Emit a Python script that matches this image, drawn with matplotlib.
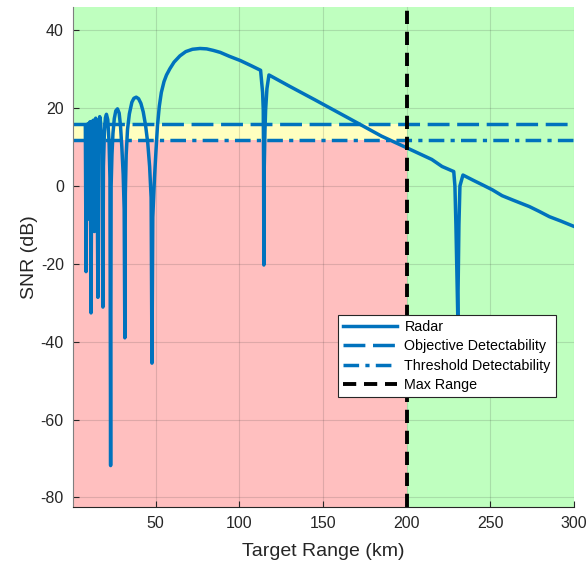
# SNR vs target range with detectability regions

import matplotlib.pyplot as plt
import numpy as np

plt.rcParams['font.family'] = ['Liberation Sans', 'DejaVu Sans']
plt.rcParams['axes.unicode_minus'] = False

# radar SNR curve
range_km = [8.0, 8.43, 8.9, 9.4, 9.6, 9.9, 10.4, 10.9, 11.4, 11.9, 12.5, 12.9, 13.4,
            13.6, 13.9, 14.2, 14.6, 15.0, 15.5,
            15.8, 16.2, 16.6, 17.2, 17.9, 18.5,
            18.8, 19.4, 20.0, 20.6, 21.4, 22.2, 22.7, 23.1,
            23.4, 23.9, 24.5, 25.3, 26.2, 27.2, 28.2, 29.0, 29.8, 30.6, 31.2, 31.6,
            31.9, 32.4, 33.2, 34.3, 35.8, 37.0, 38.4, 39.8, 41.2, 42.6, 44.0, 45.3, 46.4, 47.3, 47.8,
            48.3, 49.3, 50.2, 51.1, 52.2, 53.4, 55.0, 56.5, 58.5, 61.0, 64.5, 68.0, 72.0, 76.5,
            80.5, 84.5, 88.6, 94.0, 100.6, 106.5, 112.7,
            113.9, 114.3, 114.5, 114.65, 114.9, 115.3, 115.7, 116.5, 117.7,
            130.0, 144.8, 170.9, 184.9, 200.0, 215.0, 221.1,
            228.1, 228.8, 229.4, 230.5, 231.2, 231.8, 233.6,
            240.0, 245.2, 251.2, 257.0, 263.3, 268.0, 273.3, 279.0, 285.3, 292.0, 299.4]
snr_db = [15.5, -22.0, 15.8, -4.0, 15.9, -8.5, 16.2, 16.5, -32.6, 16.6, -6.0, 16.9, -11.7,
          8.0, 15.0, 17.4, 15.0, 8.0, -28.6,
          8.0, 15.5, 17.8, 16.0, 9.0, -31.1,
          5.0, 14.0, 17.5, 18.4, 17.0, 11.0, 2.0, -71.8,
          0.0, 8.0, 13.5, 17.3, 19.3, 19.8, 18.7, 15.5, 10.0, 3.0, -6.0, -39.0,
          -2.0, 8.0, 14.5, 18.5, 21.5, 22.5, 22.8, 22.4, 21.2, 19.0, 15.5, 11.0, 5.0, -3.0, -45.5,
          -8.0, 2.0, 9.0, 15.5, 20.5, 24.0, 26.8, 28.5, 30.1, 31.8, 33.4, 34.5, 35.1, 35.3,
          35.2, 34.8, 34.3, 33.3, 32.2, 31.0, 29.7,
          24.0, 19.5, 5.0, -20.3, 5.0, 14.0, 19.5, 25.0, 28.5,
          25.6, 22.2, 16.1, 12.8, 9.8, 6.8, 5.0,
          3.7, 0.0, -10.0, -33.3, -10.0, 0.0, 2.8,
          1.4, 0.3, -1.0, -2.5, -3.6, -4.4, -5.3, -6.5, -7.9, -9.0, -10.3]

objective_db = 16.0
threshold_db = 11.7
max_range_km = 200.0

xlim = (0.5, 300)
ylim = (-82.5, 46)

fig = plt.figure(figsize=(5.87, 5.68), dpi=100)
ax = fig.add_axes([0.124, 0.107, 0.854, 0.881])

green = '#BFFFBF'
yellow = '#FFFFBF'
red = '#FFBFBF'
blue = '#0072BD'

ax.set_facecolor(green)
ax.fill_between([xlim[0], max_range_km], threshold_db, objective_db, color=yellow, lw=0, zorder=0)
ax.fill_between([xlim[0], max_range_km], ylim[0], threshold_db, color=red, lw=0, zorder=0)

ax.plot(range_km, snr_db, color=blue, lw=2.5, label='Radar', zorder=3)
ax.axhline(objective_db, color=blue, lw=2.5, ls=(0, (6.3, 2.2)), label='Objective Detectability', zorder=3)
ax.axhline(threshold_db, color=blue, lw=2.5, ls=(0, (4.5, 1.8, 1.2, 1.8)), label='Threshold Detectability', zorder=3)
ax.axvline(max_range_km, color='black', lw=2.8, ls=(0, (3.4, 2.0)), label='Max Range', zorder=4)

ax.set_xlim(*xlim)
ax.set_ylim(*ylim)
ax.set_xticks([50, 100, 150, 200, 250, 300])
ax.set_yticks([-80, -60, -40, -20, 0, 20, 40])
ax.grid(True, color='#262626', alpha=0.15, lw=0.8)
for gl in ax.get_xgridlines() + ax.get_ygridlines():
    gl.set_zorder(1)

tc = '#262626'
ax.tick_params(direction='in', length=4, labelsize=11.5, colors=tc, width=0.8)
ax.tick_params(axis='x', pad=6)
ax.tick_params(axis='y', pad=6.5)
for s in ['top', 'right']:
    ax.spines[s].set_visible(False)
ax.spines['left'].set_color('#7f7f7f')
ax.spines['bottom'].set_color(tc)
for s in ['left', 'bottom']:
    ax.spines[s].set_linewidth(0.8)
    ax.spines[s].set_zorder(5)

ax.set_xlabel('Target Range (km)', fontsize=14, color=tc, labelpad=9)
ax.set_ylabel('SNR (dB)', fontsize=14, color=tc, labelpad=2)

leg = ax.legend(loc='lower left', bbox_to_anchor=(0.529, 0.22), fontsize=10.3,
                fancybox=False, framealpha=1, edgecolor='#262626', handlelength=3.8,
                borderpad=0.35, labelspacing=0.38, handletextpad=0.5, borderaxespad=0)
leg.get_frame().set_linewidth(0.8)
leg.set_zorder(6)

fig.savefig('out.png', dpi=100)
